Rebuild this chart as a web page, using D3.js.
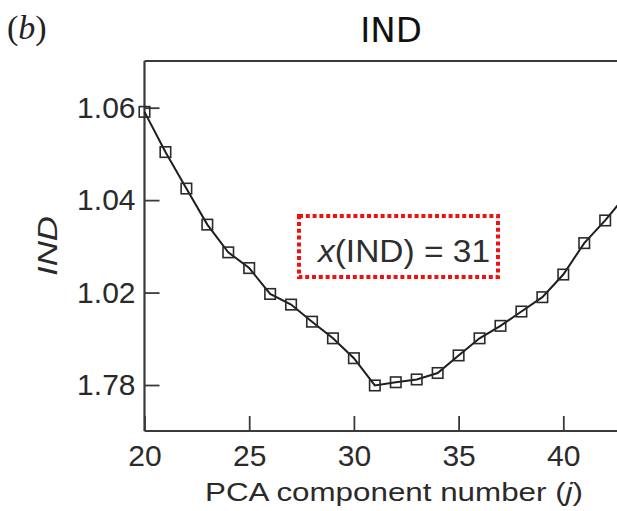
<!DOCTYPE html>
<html>
<head>
<meta charset="utf-8">
<script src="https://cdn.jsdelivr.net/npm/d3@7"></script>
<style>
  html, body { margin: 0; padding: 0; background: #fff; }
  svg { display: block; }
</style>
</head>
<body>
<svg id="chart" width="617" height="511"></svg>
<script>
// ---- data ----
const components = [20,21,22,23,24,25,26,27,28,29,30,31,32,33,34,35,36,37,38,39,40,41,42,43];
const indValues = [1.0591,1.0504,1.0425,1.0347,1.0287,1.0253,1.0197,1.0174,1.0137,1.0101,1.0058,0.9999,
                   1.0006,1.0012,1.0026,1.0064,1.0101,1.0128,1.0159,1.0190,1.0239,1.0307,1.0356,1.0411];
const xTicks = [20,25,30,35,40];
const yTicks = [1.06,1.04,1.02,1.00];
const yTickLabels = ["1.06","1.04","1.02","1.78"];
const titleText = "IND";
const panelLabel = "b";
const xTitle = "PCA component number (";
const yTitle = "IND";
const annotationValue = "31";

(function () {
const svg = d3.select("#chart");
const pLeft = 144.5, pTop = 61, pBottom = 431, rightEdge = 617;

const x = d3.scaleLinear().domain([20, 43]).range([pLeft, pLeft + 23 * 20.94]);
const y = d3.scaleLinear().domain([0.99005, 1.0701]).range([pBottom, pTop]);

const axisColor = "#3a3a3a";
const font = "'Liberation Sans', Arial, sans-serif";

// frame lines
svg.append("line").attr("x1", pLeft).attr("x2", rightEdge).attr("y1", pTop).attr("y2", pTop)
  .attr("stroke", axisColor).attr("stroke-width", 2.2);
svg.append("line").attr("x1", pLeft).attr("x2", rightEdge).attr("y1", pBottom).attr("y2", pBottom)
  .attr("stroke", axisColor).attr("stroke-width", 2.2);
svg.append("line").attr("x1", pLeft).attr("x2", pLeft).attr("y1", pTop).attr("y2", pBottom)
  .attr("stroke", axisColor).attr("stroke-width", 2.2);

// x axis
const gx = svg.append("g").attr("transform", `translate(0,${pBottom})`)
  .call(d3.axisBottom(x).tickValues(xTicks).tickSizeInner(-15).tickSizeOuter(0).tickPadding(14));
gx.select(".domain").remove();
gx.selectAll(".tick line").attr("stroke", axisColor).attr("stroke-width", 1.8);
gx.selectAll(".tick text").attr("font-family", font).attr("font-size", 30).attr("fill", "#2a2a2a");

// y axis
const gy = svg.append("g").attr("transform", `translate(${pLeft},0)`)
  .call(d3.axisLeft(y).tickValues(yTicks).tickSizeInner(-15).tickSizeOuter(0).tickPadding(9)
    .tickFormat((d, i) => yTickLabels[i]));
gy.select(".domain").remove();
gy.selectAll(".tick line").attr("stroke", axisColor).attr("stroke-width", 1.8);
gy.selectAll(".tick text").attr("font-family", font).attr("font-size", 30).attr("fill", "#2a2a2a");

// data
const pts = components.map((c, i) => ({ c, v: indValues[i] }));
svg.append("path").datum(pts)
  .attr("d", d3.line().x(d => x(d.c)).y(d => y(d.v)))
  .attr("fill", "none").attr("stroke", "#1e1e1e").attr("stroke-width", 2);

const s = 10.5;
svg.append("g").selectAll("rect").data(pts).join("rect")
  .attr("x", d => x(d.c) - s / 2).attr("y", d => y(d.v) - s / 2)
  .attr("width", s).attr("height", s)
  .attr("fill", "none").attr("stroke", "#2a2a2a").attr("stroke-width", 1.6);

// annotation box
svg.append("rect").attr("x", 299).attr("y", 216).attr("width", 199).attr("height", 61)
  .attr("fill", "none").attr("stroke", "#f01010").attr("stroke-width", 4)
  .attr("stroke-dasharray", "4 2.8");
const ann = svg.append("text").attr("x", 318).attr("y", 262)
  .attr("font-family", font).attr("font-size", 32).attr("fill", "#2e2e2e")
  .attr("textLength", 172).attr("lengthAdjust", "spacingAndGlyphs");
ann.append("tspan").attr("font-style", "italic").text("x");
ann.append("tspan").text("(IND) = " + annotationValue);

// title
svg.append("text").attr("x", 391).attr("y", 42).attr("text-anchor", "middle")
  .attr("font-family", "'Comic Sans MS', 'DejaVu Sans', sans-serif").attr("font-size", 34)
  .attr("fill", "#111").text(titleText);

// panel label
const pl = svg.append("text").attr("x", 7).attr("y", 39)
  .attr("font-family", "'Liberation Serif', 'Times New Roman', serif").attr("font-size", 34).attr("fill", "#222");
pl.append("tspan").text("(");
pl.append("tspan").attr("font-style", "italic").text(panelLabel);
pl.append("tspan").text(")");

// x title
const xt = svg.append("text").attr("x", 205).attr("y", 501)
  .attr("font-family", font).attr("font-size", 26).attr("fill", "#2a2a2a")
  .attr("textLength", 378).attr("lengthAdjust", "spacingAndGlyphs");
xt.append("tspan").text(xTitle);
xt.append("tspan").attr("font-style", "italic").text("j");
xt.append("tspan").text(")");

// y title
svg.append("text").attr("transform", `translate(57,${(pTop + pBottom) / 2}) rotate(-90)`)
  .attr("text-anchor", "middle")
  .attr("font-family", font).attr("font-size", 28).attr("font-style", "italic").attr("fill", "#2a2a2a")
  .attr("textLength", 60).attr("lengthAdjust", "spacingAndGlyphs")
  .text(yTitle);
})();
</script>
</body>
</html>
